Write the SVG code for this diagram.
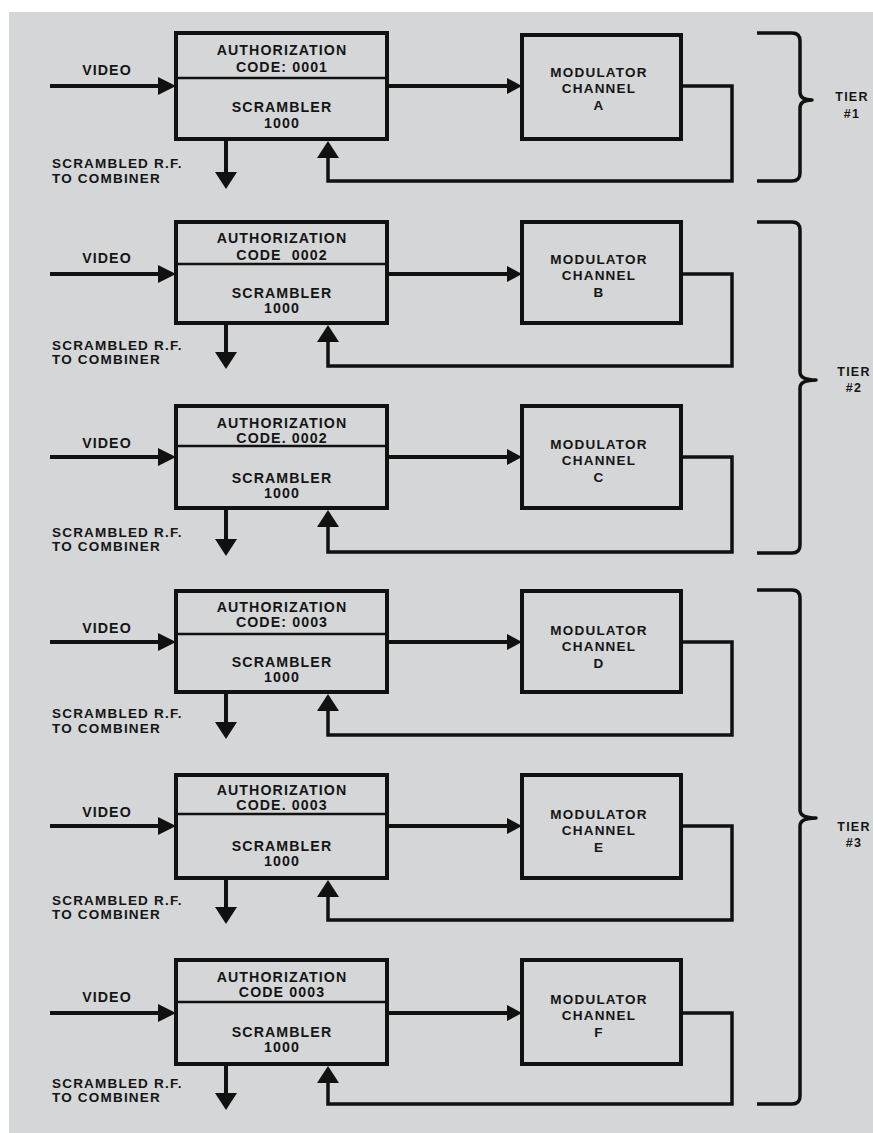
<svg xmlns="http://www.w3.org/2000/svg" width="873" height="1133" viewBox="0 0 873 1133">
<style>
.bg{fill:#d4d6d7}
.box{fill:none;stroke:#111;stroke-width:4}
.div{stroke:#111;stroke-width:2.5}
.ln{fill:none;stroke:#111;stroke-width:4}
.fb{fill:none;stroke:#111;stroke-width:3.5}
.br{fill:none;stroke:#111;stroke-width:3.5;stroke-linejoin:round}
text{font-family:"Liberation Sans",Arial,sans-serif;font-weight:bold;font-size:13.5px;fill:#151515;letter-spacing:1.2px}
.c{text-anchor:middle}
.b{font-size:14.2px;letter-spacing:1.1px}
.t{font-size:12.5px}
</style>
<defs>
<marker id="ahL" viewBox="0 0 18 18" refX="0" refY="9" markerWidth="18" markerHeight="18" markerUnits="userSpaceOnUse" orient="auto"><path d="M0,0 L18,9 L0,18z" fill="#111"/></marker>
<marker id="ahS" viewBox="0 0 15 16" refX="0" refY="8" markerWidth="15" markerHeight="16" markerUnits="userSpaceOnUse" orient="auto"><path d="M0,0 L15,8 L0,16z" fill="#111"/></marker>
<marker id="ahV" viewBox="0 0 17 22" refX="0" refY="11" markerWidth="17" markerHeight="22" markerUnits="userSpaceOnUse" orient="auto"><path d="M0,0 L17,11 L0,22z" fill="#111"/></marker>
</defs>
<rect class="bg" x="9" y="12" width="864" height="1121"/>

<!-- Row 1 -->
<g id="scr1"><rect class="box" x="176" y="33" width="211" height="106"/><line class="div" x1="176" y1="78" x2="387" y2="78"/>
<text class="c b" x="282" y="55">AUTHORIZATION</text><text class="c b" x="282" y="72">CODE: 0001</text><text class="c b" x="282" y="112">SCRAMBLER</text><text class="c b" x="282" y="128">1000</text></g>
<g id="mod1"><rect class="box" x="522" y="35" width="159" height="104"/><text class="c" x="599" y="77">MODULATOR</text><text class="c" x="599" y="93">CHANNEL</text><text class="c" x="599" y="110">A</text></g>
<g id="lbl1"><text class="c b" x="107" y="75">VIDEO</text><text x="52" y="168">SCRAMBLED R.F.</text><text x="52" y="183">TO COMBINER</text></g>

<!-- Row 2 -->
<g id="scr2"><rect class="box" x="176" y="222" width="211" height="101"/><line class="div" x1="176" y1="264" x2="387" y2="264"/>
<text class="c b" x="282" y="243">AUTHORIZATION</text><text class="c b" x="282" y="260">CODE&#160; 0002</text><text class="c b" x="282" y="298">SCRAMBLER</text><text class="c b" x="282" y="313">1000</text></g>
<g id="mod2"><rect class="box" x="522" y="222" width="159" height="101"/><text class="c" x="599" y="264">MODULATOR</text><text class="c" x="599" y="280">CHANNEL</text><text class="c" x="599" y="297">B</text></g>
<g id="lbl2"><text class="c b" x="107" y="263">VIDEO</text><text x="52" y="350">SCRAMBLED R.F.</text><text x="52" y="364">TO COMBINER</text></g>

<!-- Row 3 -->
<g id="scr3"><rect class="box" x="176" y="406" width="211" height="102"/><line class="div" x1="176" y1="446" x2="387" y2="446"/>
<text class="c b" x="282" y="428">AUTHORIZATION</text><text class="c b" x="282" y="443">CODE. 0002</text><text class="c b" x="282" y="483">SCRAMBLER</text><text class="c b" x="282" y="498">1000</text></g>
<g id="mod3"><rect class="box" x="522" y="406" width="159" height="102"/><text class="c" x="599" y="449">MODULATOR</text><text class="c" x="599" y="465">CHANNEL</text><text class="c" x="599" y="482">C</text></g>
<g id="lbl3"><text class="c b" x="107" y="448">VIDEO</text><text x="52" y="537">SCRAMBLED R.F.</text><text x="52" y="551">TO COMBINER</text></g>

<!-- Row 4 -->
<g id="scr4"><rect class="box" x="176" y="591" width="211" height="101"/><line class="div" x1="176" y1="634" x2="387" y2="634"/>
<text class="c b" x="282" y="612">AUTHORIZATION</text><text class="c b" x="282" y="627">CODE: 0003</text><text class="c b" x="282" y="667">SCRAMBLER</text><text class="c b" x="282" y="682">1000</text></g>
<g id="mod4"><rect class="box" x="522" y="591" width="159" height="101"/><text class="c" x="599" y="635">MODULATOR</text><text class="c" x="599" y="651">CHANNEL</text><text class="c" x="599" y="668">D</text></g>
<g id="lbl4"><text class="c b" x="107" y="633">VIDEO</text><text x="52" y="718">SCRAMBLED R.F.</text><text x="52" y="733">TO COMBINER</text></g>

<!-- Row 5 -->
<g id="scr5"><rect class="box" x="176" y="775" width="211" height="103"/><line class="div" x1="176" y1="814" x2="387" y2="814"/>
<text class="c b" x="282" y="795">AUTHORIZATION</text><text class="c b" x="282" y="810">CODE. 0003</text><text class="c b" x="282" y="851">SCRAMBLER</text><text class="c b" x="282" y="866">1000</text></g>
<g id="mod5"><rect class="box" x="522" y="775" width="159" height="103"/><text class="c" x="599" y="819">MODULATOR</text><text class="c" x="599" y="835">CHANNEL</text><text class="c" x="599" y="852">E</text></g>
<g id="lbl5"><text class="c b" x="107" y="817">VIDEO</text><text x="52" y="905">SCRAMBLED R.F.</text><text x="52" y="919">TO COMBINER</text></g>

<!-- Row 6 -->
<g id="scr6"><rect class="box" x="176" y="960" width="211" height="104"/><line class="div" x1="176" y1="1002" x2="387" y2="1002"/>
<text class="c b" x="282" y="982">AUTHORIZATION</text><text class="c b" x="282" y="997">CODE 0003</text><text class="c b" x="282" y="1037">SCRAMBLER</text><text class="c b" x="282" y="1052">1000</text></g>
<g id="mod6"><rect class="box" x="522" y="960" width="159" height="104"/><text class="c" x="599" y="1004">MODULATOR</text><text class="c" x="599" y="1020">CHANNEL</text><text class="c" x="599" y="1037">F</text></g>
<g id="lbl6"><text class="c b" x="107" y="1002">VIDEO</text><text x="52" y="1088">SCRAMBLED R.F.</text><text x="52" y="1102">TO COMBINER</text></g>

<g id="connectors">
<line class="ln" x1="50" y1="86" x2="158" y2="86" marker-end="url(#ahL)"/>
<line class="ln" x1="387" y1="86" x2="507" y2="86" marker-end="url(#ahS)"/>
<line class="ln" x1="226" y1="139" x2="226" y2="172" marker-end="url(#ahV)"/>
<path class="fb" d="M681,86 H732 V181 H328 V158" marker-end="url(#ahV)"/>
<line class="ln" x1="50" y1="274" x2="158" y2="274" marker-end="url(#ahL)"/>
<line class="ln" x1="387" y1="274" x2="507" y2="274" marker-end="url(#ahS)"/>
<line class="ln" x1="226" y1="323" x2="226" y2="352" marker-end="url(#ahV)"/>
<path class="fb" d="M681,274 H732 V366 H328 V342" marker-end="url(#ahV)"/>
<line class="ln" x1="50" y1="457" x2="158" y2="457" marker-end="url(#ahL)"/>
<line class="ln" x1="387" y1="457" x2="507" y2="457" marker-end="url(#ahS)"/>
<line class="ln" x1="226" y1="508" x2="226" y2="539" marker-end="url(#ahV)"/>
<path class="fb" d="M681,457 H732 V552 H328 V527" marker-end="url(#ahV)"/>
<line class="ln" x1="50" y1="642" x2="158" y2="642" marker-end="url(#ahL)"/>
<line class="ln" x1="387" y1="642" x2="507" y2="642" marker-end="url(#ahS)"/>
<line class="ln" x1="226" y1="692" x2="226" y2="722" marker-end="url(#ahV)"/>
<path class="fb" d="M681,642 H732 V735 H328 V711" marker-end="url(#ahV)"/>
<line class="ln" x1="50" y1="826" x2="158" y2="826" marker-end="url(#ahL)"/>
<line class="ln" x1="387" y1="826" x2="507" y2="826" marker-end="url(#ahS)"/>
<line class="ln" x1="226" y1="878" x2="226" y2="907" marker-end="url(#ahV)"/>
<path class="fb" d="M681,826 H732 V920 H328 V897" marker-end="url(#ahV)"/>
<line class="ln" x1="50" y1="1013" x2="158" y2="1013" marker-end="url(#ahL)"/>
<line class="ln" x1="387" y1="1013" x2="507" y2="1013" marker-end="url(#ahS)"/>
<line class="ln" x1="226" y1="1064" x2="226" y2="1093" marker-end="url(#ahV)"/>
<path class="fb" d="M681,1013 H732 V1104 H328 V1083" marker-end="url(#ahV)"/>
</g>

<g id="tier1"><path class="br" d="M757,33 H792 Q800,33 800,41 V92 Q800,100 812,100 Q800,100 800,108 V173 Q800,181 792,181 H757"/>
<text class="c t" x="852" y="101">TIER</text><text class="c t" x="852" y="118">#1</text></g>
<g id="tier2"><path class="br" d="M757,222 H792 Q800,222 800,230 V372 Q800,380 816,380 Q800,380 800,388 V545 Q800,553 792,553 H757"/>
<text class="c t" x="854" y="376">TIER</text><text class="c t" x="854" y="392">#2</text></g>
<g id="tier3"><path class="br" d="M757,590 H792 Q800,590 800,598 V810 Q800,818 816,818 Q800,818 800,826 V1096 Q800,1104 792,1104 H757"/>
<text class="c t" x="854" y="831">TIER</text><text class="c t" x="854" y="847">#3</text></g>
</svg>
